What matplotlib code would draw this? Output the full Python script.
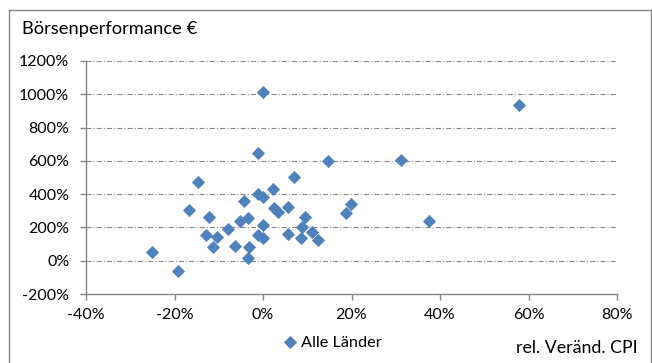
import matplotlib
matplotlib.use("Agg")
import matplotlib.pyplot as plt
from matplotlib.lines import Line2D
import numpy as np

plt.rcParams['font.family'] = ['Lato', 'DejaVu Sans']
plt.rcParams['lines.scale_dashes'] = False

# relative change of CPI (%) vs. stock performance in EUR (%)
cpi_change = [-25.0, -19.1, -16.8, -14.6, -12.3, -12.9, -10.5, -11.2, -7.9, -6.3,
              -5.2, -3.4, -4.3, -3.1, -3.3, -1.2, 0.0, -1.1, -0.1, 0.0,
              -1.2, 0.1, 2.3, 2.5, 3.5, 5.7, 7.1, 5.6, 9.5, 8.8,
              8.6, 11.0, 12.5, 14.7, 18.8, 19.8, 31.2, 37.5, 57.9]
performance = [52, -62, 302, 474, 262, 152, 145, 84, 190, 87,
               238, 256, 357, 82, 17, 398, 384, 645, 1013, 214,
               157, 139, 432, 316, 292, 322, 506, 160, 262, 202,
               136, 172, 122, 602, 286, 342, 608, 238, 938]

x_ticks = [-40, -20, 0, 20, 40, 60, 80]
y_ticks = [-200, 0, 200, 400, 600, 800, 1000, 1200]

W, H = 652, 363
fig = plt.figure(figsize=(W / 100, H / 100), dpi=100)
ax = fig.add_axes([86 / W, 1 - 294 / H, (617 - 86) / W, (294 - 61) / H])

blue = '#4f81bd'
grey = '#868686'

ax.plot(cpi_change, performance, linestyle='none', marker='D', markersize=6.2,
        color=blue, markeredgecolor=blue, markeredgewidth=0.6,
        label='Alle Länder', zorder=3, clip_on=False)

ax.set_xlim(-40, 80)
ax.set_ylim(-200, 1200)
ax.set_xticks(x_ticks)
ax.set_yticks(y_ticks)
ax.set_xticklabels([f'{v}%' for v in x_ticks])
ax.set_yticklabels([f'{v}%' for v in y_ticks])

for side in ['top', 'right']:
    ax.spines[side].set_visible(False)
for side in ['left', 'bottom']:
    ax.spines[side].set_color(grey)
    ax.spines[side].set_linewidth(1.0)

ax.tick_params(axis='both', direction='out', length=4, width=1.0, color=grey,
               labelsize=11.5, labelcolor='black')
ax.tick_params(axis='y', pad=8)
ax.tick_params(axis='x', pad=6)

ax.grid(axis='y', color=grey, linewidth=0.8, linestyle=(0, (3.6, 1.5, 0.8, 1.5)))
ax.set_axisbelow(True)

# outer chart frame
for xs, ys in [([8.5, 650.5], [9.5, 9.5]), ([8.5, 8.5], [9.5, 363]),
               ([650.5, 650.5], [9.5, 363])]:
    fig.add_artist(Line2D([x / W for x in xs], [1 - y / H for y in ys],
                          color=grey, linewidth=1.0))

fig.text(22 / W, 1 - 29 / H, 'Börsenperformance €', fontsize=13.2,
         ha='left', va='center')
fig.text(638 / W, 1 - 348 / H, 'rel. Veränd. CPI', fontsize=12.8,
         ha='right', va='center')

ax.legend(loc='center left', bbox_to_anchor=(283 / W, 1 - 343 / H),
          bbox_transform=fig.transFigure, frameon=False, fontsize=11.7,
          handlelength=0.8, handletextpad=0.3, borderpad=0, borderaxespad=0)

fig.savefig('out.png', dpi=100)
